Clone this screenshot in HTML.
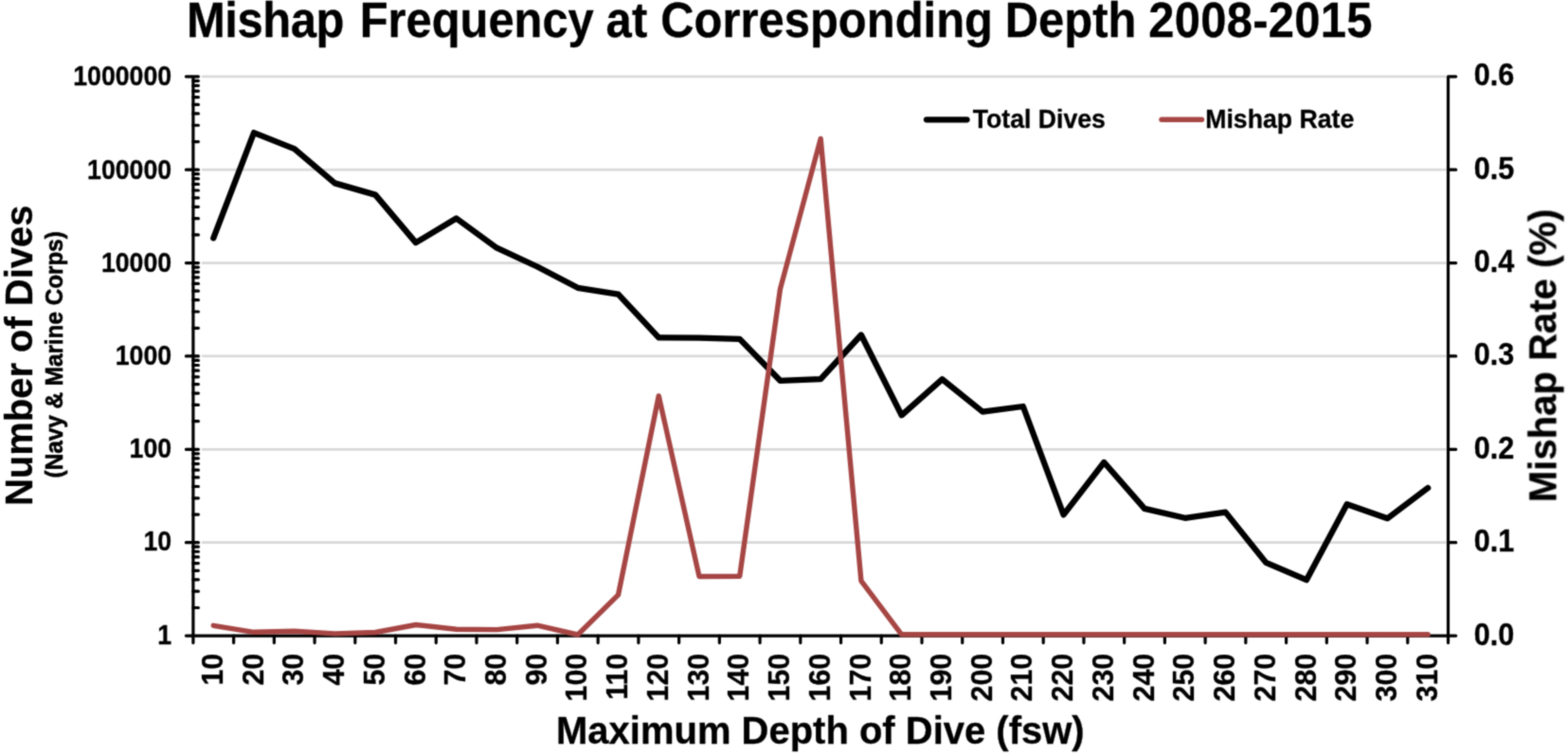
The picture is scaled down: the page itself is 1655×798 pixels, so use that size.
<!DOCTYPE html>
<html lang="en">
<head>
<meta charset="utf-8">
<title>Mishap Frequency at Corresponding Depth 2008-2015</title>
<style>
html,body{margin:0;padding:0;background:#fff;}
body{width:1655px;height:798px;overflow:hidden;}
svg{display:block;}
text{font-family:"Liberation Sans",Arial,Helvetica,sans-serif;font-weight:700;fill:#000;stroke:#000;stroke-width:0.3px;stroke-linejoin:round;}
</style>
</head>
<body>
<svg width="1655" height="798" viewBox="0 0 1655 798">
<defs><filter id="soft" x="0" y="0" width="1655" height="798" filterUnits="userSpaceOnUse" color-interpolation-filters="sRGB"><feConvolveMatrix order="3" kernelMatrix="0.0369 0.1183 0.0369 0.1183 0.3790 0.1183 0.0369 0.1183 0.0369" divisor="1" edgeMode="duplicate" preserveAlpha="false"/></filter></defs>
<rect width="1655" height="798" fill="#fff"/>
<g filter="url(#soft)">
<g stroke="#d9d9d9" stroke-width="2.7" fill="none">
<line x1="212.9" y1="80.8" x2="1526.5" y2="80.8"/>
<line x1="212.9" y1="179.18" x2="1526.5" y2="179.18"/>
<line x1="212.9" y1="277.57" x2="1526.5" y2="277.57"/>
<line x1="212.9" y1="375.95" x2="1526.5" y2="375.95"/>
<line x1="212.9" y1="474.33" x2="1526.5" y2="474.33"/>
<line x1="212.9" y1="572.72" x2="1526.5" y2="572.72"/>
</g>
<g stroke="#000" stroke-width="3.2" fill="none" stroke-linecap="round">
<line x1="203.9" y1="80.8" x2="203.9" y2="671.1" stroke-linecap="butt"/>
<line x1="1528.5" y1="80.8" x2="1528.5" y2="671.1" stroke-linecap="butt"/>
<line x1="196.4" y1="671.1" x2="1536.7" y2="671.1"/>
<path d="M196.4 80.8H209.4M203.9 149.57H209.4M203.9 132.24H209.4M203.9 119.95H209.4M203.9 110.42H209.4M203.9 102.63H209.4M203.9 96.04H209.4M203.9 90.33H209.4M203.9 85.3H209.4M196.4 179.18H209.4M203.9 247.95H209.4M203.9 230.63H209.4M203.9 218.33H209.4M203.9 208.8H209.4M203.9 201.01H209.4M203.9 194.42H209.4M203.9 188.72H209.4M203.9 183.69H209.4M196.4 277.57H209.4M203.9 346.33H209.4M203.9 329.01H209.4M203.9 316.72H209.4M203.9 307.18H209.4M203.9 299.39H209.4M203.9 292.81H209.4M203.9 287.1H209.4M203.9 282.07H209.4M196.4 375.95H209.4M203.9 444.72H209.4M203.9 427.39H209.4M203.9 415.1H209.4M203.9 405.57H209.4M203.9 397.78H209.4M203.9 391.19H209.4M203.9 385.48H209.4M203.9 380.45H209.4M196.4 474.33H209.4M203.9 543.1H209.4M203.9 525.78H209.4M203.9 513.48H209.4M203.9 503.95H209.4M203.9 496.16H209.4M203.9 489.57H209.4M203.9 483.87H209.4M203.9 478.84H209.4M196.4 572.72H209.4M203.9 641.48H209.4M203.9 624.16H209.4M203.9 611.87H209.4M203.9 602.33H209.4M203.9 594.54H209.4M203.9 587.96H209.4M203.9 582.25H209.4M203.9 577.22H209.4"/>
<path d="M1528.5 80.8H1536.7M1528.5 179.18H1536.7M1528.5 277.57H1536.7M1528.5 375.95H1536.7M1528.5 474.33H1536.7M1528.5 572.72H1536.7"/>
<path d="M203.9 671.1V678.6M246.63 671.1V678.6M289.36 671.1V678.6M332.09 671.1V678.6M374.82 671.1V678.6M417.55 671.1V678.6M460.27 671.1V678.6M503 671.1V678.6M545.73 671.1V678.6M588.46 671.1V678.6M631.19 671.1V678.6M673.92 671.1V678.6M716.65 671.1V678.6M759.38 671.1V678.6M802.11 671.1V678.6M844.84 671.1V678.6M887.56 671.1V678.6M930.29 671.1V678.6M973.02 671.1V678.6M1015.75 671.1V678.6M1058.48 671.1V678.6M1101.21 671.1V678.6M1143.94 671.1V678.6M1186.67 671.1V678.6M1229.4 671.1V678.6M1272.13 671.1V678.6M1314.85 671.1V678.6M1357.58 671.1V678.6M1400.31 671.1V678.6M1443.04 671.1V678.6M1485.77 671.1V678.6M1528.5 671.1V678.6"/>
</g>
<polyline points="225.26,251.3 267.99,140.1 310.72,157.1 353.45,193.4 396.18,205.6 438.91,256.1 481.64,230.5 524.37,261.7 567.1,281.5 609.83,303.8 652.55,310.6 695.28,356.3 738.01,356.7 780.74,357.9 823.47,401.8 866.2,400.2 908.93,353.5 951.66,438.3 994.39,400.3 1037.12,434.6 1079.85,429 1122.57,543.4 1165.3,488 1208.03,536.9 1250.76,546.8 1293.49,540.6 1336.22,593.9 1378.95,612.2 1421.68,532.2 1464.41,547.2 1507.14,515.1" fill="none" stroke="#000" stroke-width="6.3" stroke-linejoin="round" stroke-linecap="round"/>
<polyline points="225.26,660.3 267.99,667.3 310.72,666.3 353.45,668.9 396.18,667.5 438.91,659.5 481.64,664.3 524.37,664.6 567.1,660.2 609.83,670 652.55,627.9 695.28,417.9 738.01,608.5 780.74,608.2 823.47,305.1 866.2,146.4 908.93,613.1 951.66,669.8 994.39,669.8 1037.12,669.8 1079.85,669.8 1122.57,669.8 1165.3,669.8 1208.03,669.8 1250.76,669.8 1293.49,669.8 1336.22,669.8 1378.95,669.8 1421.68,669.8 1464.41,669.8 1507.14,669.8" fill="none" stroke="#a64644" stroke-width="5.4" stroke-linejoin="round" stroke-linecap="round"/>
<line x1="978" y1="126.3" x2="1020.5" y2="126.3" stroke="#000" stroke-width="6.3" stroke-linecap="round"/>
<line x1="1226" y1="126.3" x2="1268.5" y2="126.3" stroke="#a64644" stroke-width="5.4" stroke-linecap="round"/>
<text transform="translate(1026.7 134.7) scale(1 1.03)" font-size="26.67">Total Dives</text>
<text transform="translate(1272.2 134.7) scale(1 1.03)" font-size="26.67">Mishap Rate</text>
<text transform="translate(0 38.85) scale(1 1.043)" font-size="48.95" xml:space="preserve"><tspan x="196.94" letter-spacing="-0.44">Mishap </tspan><tspan x="379.74" letter-spacing="-0.05">Frequency </tspan><tspan x="639.43" letter-spacing="0.45">at </tspan><tspan x="697.24" letter-spacing="0">Corresponding </tspan><tspan x="1060.74" letter-spacing="0">Depth </tspan><tspan x="1212.27" letter-spacing="0.27">2008-2015</tspan></text>
<g font-size="26.7" text-anchor="end">
<text transform="translate(181.1 90.47) scale(1 1.11)">1000000</text>
<text transform="translate(181.1 188.65) scale(1 1.11)">100000</text>
<text transform="translate(181.1 286.83) scale(1 1.11)">10000</text>
<text transform="translate(181.1 385.01) scale(1 1.11)">1000</text>
<text transform="translate(181.1 483.19) scale(1 1.11)">100</text>
<text transform="translate(181.1 581.37) scale(1 1.11)">10</text>
<text transform="translate(181.1 679.55) scale(1 1.11)">1</text>
</g>
<g font-size="30">
<text transform="translate(1555.7 90.23) scale(1.02 1.12)">0.6</text>
<text transform="translate(1555.7 188.62) scale(1.02 1.12)">0.5</text>
<text transform="translate(1555.7 287) scale(1.02 1.12)">0.4</text>
<text transform="translate(1555.7 385.38) scale(1.02 1.12)">0.3</text>
<text transform="translate(1555.7 483.77) scale(1.02 1.12)">0.2</text>
<text transform="translate(1555.7 582.15) scale(1.02 1.12)">0.1</text>
<text transform="translate(1555.7 680.53) scale(1.02 1.12)">0.0</text>
</g>
<g font-size="30.4" text-anchor="end">
<text transform="translate(234.86 689.8) rotate(-90) scale(1 1.05)">10</text>
<text transform="translate(277.59 689.8) rotate(-90) scale(1 1.05)">20</text>
<text transform="translate(320.32 689.8) rotate(-90) scale(1 1.05)">30</text>
<text transform="translate(363.05 689.8) rotate(-90) scale(1 1.05)">40</text>
<text transform="translate(405.78 689.8) rotate(-90) scale(1 1.05)">50</text>
<text transform="translate(448.51 689.8) rotate(-90) scale(1 1.05)">60</text>
<text transform="translate(491.24 689.8) rotate(-90) scale(1 1.05)">70</text>
<text transform="translate(533.97 689.8) rotate(-90) scale(1 1.05)">80</text>
<text transform="translate(576.7 689.8) rotate(-90) scale(1 1.05)">90</text>
<text transform="translate(619.43 689.8) rotate(-90) scale(1 1.05)">100</text>
<text transform="translate(662.15 689.8) rotate(-90) scale(1 1.05)">110</text>
<text transform="translate(704.88 689.8) rotate(-90) scale(1 1.05)">120</text>
<text transform="translate(747.61 689.8) rotate(-90) scale(1 1.05)">130</text>
<text transform="translate(790.34 689.8) rotate(-90) scale(1 1.05)">140</text>
<text transform="translate(833.07 689.8) rotate(-90) scale(1 1.05)">150</text>
<text transform="translate(875.8 689.8) rotate(-90) scale(1 1.05)">160</text>
<text transform="translate(918.53 689.8) rotate(-90) scale(1 1.05)">170</text>
<text transform="translate(961.26 689.8) rotate(-90) scale(1 1.05)">180</text>
<text transform="translate(1003.99 689.8) rotate(-90) scale(1 1.05)">190</text>
<text transform="translate(1046.72 689.8) rotate(-90) scale(1 1.05)">200</text>
<text transform="translate(1089.45 689.8) rotate(-90) scale(1 1.05)">210</text>
<text transform="translate(1132.17 689.8) rotate(-90) scale(1 1.05)">220</text>
<text transform="translate(1174.9 689.8) rotate(-90) scale(1 1.05)">230</text>
<text transform="translate(1217.63 689.8) rotate(-90) scale(1 1.05)">240</text>
<text transform="translate(1260.36 689.8) rotate(-90) scale(1 1.05)">250</text>
<text transform="translate(1303.09 689.8) rotate(-90) scale(1 1.05)">260</text>
<text transform="translate(1345.82 689.8) rotate(-90) scale(1 1.05)">270</text>
<text transform="translate(1388.55 689.8) rotate(-90) scale(1 1.05)">280</text>
<text transform="translate(1431.28 689.8) rotate(-90) scale(1 1.05)">290</text>
<text transform="translate(1474.01 689.8) rotate(-90) scale(1 1.05)">300</text>
<text transform="translate(1516.74 689.8) rotate(-90) scale(1 1.05)">310</text>
</g>
<text transform="translate(33.6 375.3) rotate(-90) scale(1 1.03)" font-size="39.95" text-anchor="middle">Number of Dives</text>
<text transform="translate(66.3 374.3) rotate(-90) scale(0.934 1)" font-size="26" text-anchor="middle" style="stroke-width:0.6px">(Navy &amp; Marine Corps)</text>
<text transform="translate(1642.5 375.4) rotate(-90) scale(1 1.03)" font-size="40.1" text-anchor="middle">Mishap Rate (%)</text>
<text transform="translate(865.8 784.9) scale(1 1.035)" font-size="40" text-anchor="middle">Maximum Depth of Dive (fsw)</text>
</g>
</svg>
</body>
</html>
